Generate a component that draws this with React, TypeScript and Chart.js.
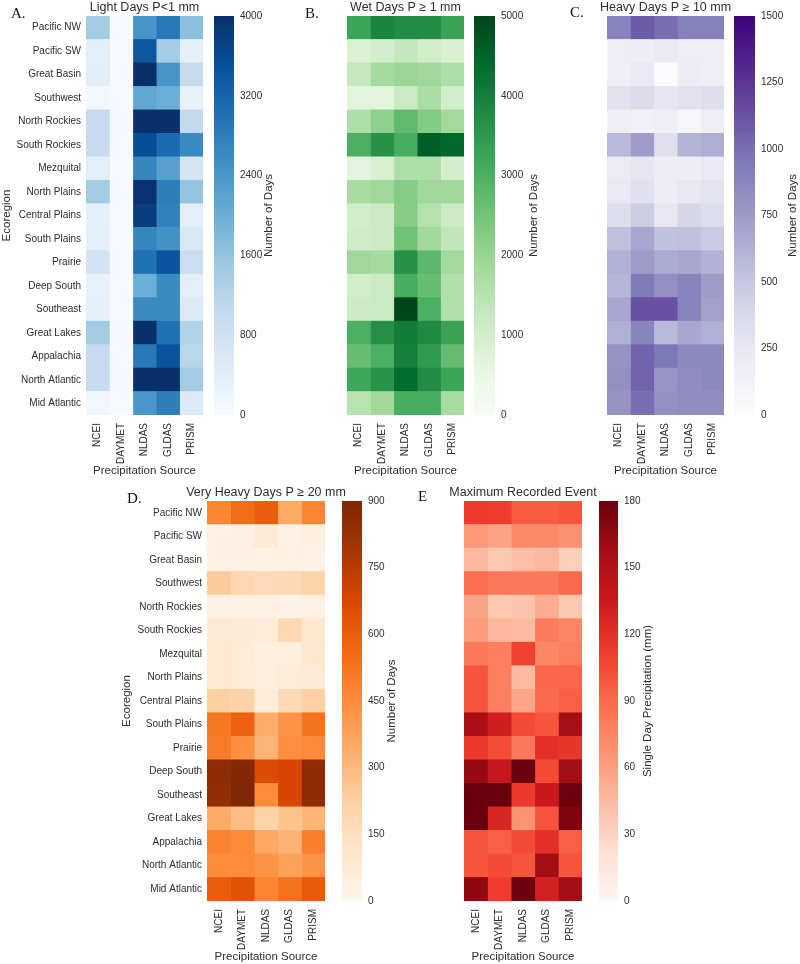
import React, { useEffect, useRef } from "react";
import { Chart, registerables } from "chart.js";
Chart.register(...registerables);

const REGIONS = [
  "Pacific NW", "Pacific SW", "Great Basin", "Southwest", "North Rockies",
  "South Rockies", "Mezquital", "North Plains", "Central Plains", "South Plains",
  "Prairie", "Deep South", "Southeast", "Great Lakes", "Appalachia",
  "North Atlantic", "Mid Atlantic",
];
const SOURCES = ["NCEI", "DAYMET", "NLDAS", "GLDAS", "PRISM"];

// rows follow REGIONS, columns follow SOURCES
const LIGHT_DAYS = [
  [1450, 20, 2450, 2900, 1700],
  [400, 20, 3400, 1450, 350],
  [450, 20, 4000, 2450, 1000],
  [100, 20, 2150, 2000, 300],
  [1000, 20, 4000, 4000, 1050],
  [1000, 20, 3550, 3100, 2600],
  [400, 20, 2700, 2250, 700],
  [1450, 20, 3950, 2800, 1600],
  [350, 20, 3800, 2750, 400],
  [380, 20, 2700, 2500, 600],
  [750, 20, 3000, 3450, 900],
  [300, 20, 2000, 2600, 400],
  [330, 20, 2600, 2600, 550],
  [1450, 20, 4000, 3000, 1250],
  [1000, 20, 2900, 3450, 1150],
  [1000, 20, 4000, 4000, 1450],
  [120, 20, 2400, 2800, 550],
];
const WET_DAYS = [
  [3250, 3900, 3750, 3750, 3300],
  [850, 1000, 1300, 1050, 870],
  [1280, 1800, 1950, 1900, 1650],
  [680, 700, 1200, 1700, 1050],
  [1650, 2150, 2750, 2300, 1850],
  [3000, 3650, 3050, 4600, 4450],
  [650, 900, 1650, 1650, 1000],
  [1750, 1900, 2250, 1900, 1880],
  [1050, 1150, 2250, 1550, 1150],
  [1080, 1150, 2550, 1880, 1350],
  [1900, 1800, 3650, 2800, 1850],
  [1050, 1200, 3050, 2650, 1600],
  [1150, 1200, 5000, 3000, 1600],
  [3000, 3700, 4050, 3800, 3300],
  [2650, 3000, 4000, 3450, 2700],
  [3200, 3600, 4350, 3750, 3250],
  [1500, 1880, 3050, 3050, 1750],
];
const HEAVY_DAYS = [
  [900, 1080, 1000, 920, 920],
  [180, 200, 220, 180, 180],
  [170, 230, 10, 200, 170],
  [300, 370, 270, 300, 340],
  [180, 150, 190, 80, 180],
  [580, 740, 330, 610, 650],
  [210, 270, 200, 200, 230],
  [230, 320, 200, 250, 290],
  [340, 460, 260, 400, 350],
  [540, 690, 530, 540, 480],
  [630, 740, 660, 680, 620],
  [600, 950, 820, 900, 740],
  [690, 1130, 1130, 900, 720],
  [640, 880, 580, 690, 640],
  [800, 1050, 960, 860, 860],
  [820, 1050, 780, 840, 860],
  [800, 1000, 820, 840, 840],
];
const VERY_HEAVY_DAYS = [
  [470, 550, 600, 350, 470],
  [40, 35, 90, 25, 50],
  [30, 30, 25, 40, 30],
  [240, 190, 170, 180, 210],
  [40, 30, 35, 15, 30],
  [90, 85, 70, 190, 110],
  [100, 70, 45, 55, 110],
  [100, 75, 55, 70, 80],
  [225, 210, 75, 175, 220],
  [520, 590, 340, 430, 530],
  [505, 440, 320, 440, 460],
  [860, 890, 665, 680, 860],
  [850, 900, 455, 680, 860],
  [350, 290, 205, 265, 310],
  [480, 460, 355, 320, 495],
  [455, 455, 430, 380, 430],
  [600, 640, 475, 535, 610],
];
const MAX_EVENT = [
  [113, 112, 97, 97, 100],
  [65, 58, 72, 72, 68],
  [45, 37, 43, 47, 32],
  [88, 82, 82, 82, 90],
  [58, 37, 40, 53, 38],
  [62, 47, 45, 80, 75],
  [82, 78, 110, 73, 78],
  [100, 78, 45, 92, 92],
  [100, 78, 57, 90, 95],
  [156, 132, 105, 100, 157],
  [114, 104, 82, 120, 116],
  [163, 137, 179, 105, 159],
  [180, 180, 114, 135, 178],
  [180, 126, 67, 100, 172],
  [100, 95, 105, 120, 95],
  [100, 105, 100, 159, 100],
  [166, 112, 178, 130, 159],
];

const LIGHT_TICKS = [0, 800, 1600, 2400, 3200, 4000];
const WET_TICKS = [0, 1000, 2000, 3000, 4000, 5000];
const HEAVY_TICKS = [0, 250, 500, 750, 1000, 1250, 1500];
const VERY_HEAVY_TICKS = [0, 150, 300, 450, 600, 750, 900];
const MAX_TICKS = [0, 30, 60, 90, 120, 150, 180];

const BLUES = ["#f7fbff", "#deebf7", "#c6dbef", "#9ecae1", "#6baed6", "#4292c6", "#2171b5", "#08519c", "#08306b"];
const GREENS = ["#f7fcf5", "#e5f5e0", "#c7e9c0", "#a1d99b", "#74c476", "#41ab5d", "#238b45", "#006d2c", "#00441b"];
const PURPLES = ["#fcfbfd", "#efedf5", "#dadaeb", "#bcbddc", "#9e9ac8", "#807dba", "#6a51a3", "#54278f", "#3f007d"];
const ORANGES = ["#fff5eb", "#fee6ce", "#fdd0a2", "#fdae6b", "#fd8d3c", "#f16913", "#d94801", "#a63603", "#7f2704"];
const REDS = ["#fff5f0", "#fee0d2", "#fcbba1", "#fc9272", "#fb6a4a", "#ef3b2c", "#cb181d", "#a50f15", "#67000d"];

const FONT = "'Liberation Sans', Arial, Helvetica, sans-serif";
const TEXT = "#2e2e2e";
Chart.defaults.font.family = FONT;
Chart.defaults.color = TEXT;

function hexRgb(h: string) {
  const n = parseInt(h.slice(1), 16);
  return [(n >> 16) & 255, (n >> 8) & 255, n & 255];
}
function cmapColor(stops: string[], t: number) {
  const c = Math.max(0, Math.min(1, t));
  const x = c * (stops.length - 1);
  const i = Math.min(Math.floor(x), stops.length - 2);
  const f = x - i;
  const a = hexRgb(stops[i]);
  const b = hexRgb(stops[i + 1]);
  const m = a.map((v, k) => Math.round(v + (b[k] - v) * f));
  return `rgb(${m[0]},${m[1]},${m[2]})`;
}

type Spec = {
  letter: string;
  letterX: number;
  letterY: number;
  title: string;
  values: number[][];
  ticks: number[];
  vmax: number;
  cmap: string[];
  cbarLabel: string;
  area: { l: number; t: number; r: number; b: number };
  yAxisW: number;
  cbar: { l: number; w: number };
  labelX: number;
};

const TITLE_H = 16;
const XAXIS_H = 65;
const CBAR_AXIS_W = 48;
const SIDE_PAD = 40;

const SPECS: Spec[] = [
  {
    letter: "A.", letterX: 11, letterY: 6, title: "Light Days P<1 mm", values: LIGHT_DAYS,
    ticks: LIGHT_TICKS, vmax: 4000, cmap: BLUES, cbarLabel: "Number of Days",
    area: { l: 86, t: 16, r: 203, b: 415 }, yAxisW: 86, cbar: { l: 214, w: 20 }, labelX: 269,
  },
  {
    letter: "B.", letterX: 305, letterY: 6, title: "Wet Days P \u2265 1 mm", values: WET_DAYS,
    ticks: WET_TICKS, vmax: 5000, cmap: GREENS, cbarLabel: "Number of Days",
    area: { l: 347, t: 16, r: 464, b: 415 }, yAxisW: 0, cbar: { l: 474, w: 21 }, labelX: 534,
  },
  {
    letter: "C.", letterX: 570, letterY: 5, title: "Heavy Days P \u2265 10 mm", values: HEAVY_DAYS,
    ticks: HEAVY_TICKS, vmax: 1500, cmap: PURPLES, cbarLabel: "Number of Days",
    area: { l: 607, t: 16, r: 724, b: 415 }, yAxisW: 0, cbar: { l: 734, w: 21 }, labelX: 793,
  },
  {
    letter: "D.", letterX: 127, letterY: 491, title: "Very Heavy Days P \u2265 20 mm", values: VERY_HEAVY_DAYS,
    ticks: VERY_HEAVY_TICKS, vmax: 900, cmap: ORANGES, cbarLabel: "Number of Days",
    area: { l: 207, t: 501, r: 325, b: 901 }, yAxisW: 87, cbar: { l: 342, w: 20 }, labelX: 392,
  },
  {
    letter: "E", letterX: 418, letterY: 489, title: "Maximum Recorded Event", values: MAX_EVENT,
    ticks: MAX_TICKS, vmax: 180, cmap: REDS, cbarLabel: "Single Day Precipitation (mm)",
    area: { l: 464, t: 501, r: 582, b: 901 }, yAxisW: 0, cbar: { l: 599, w: 19 }, labelX: 648,
  },
];

const cbarLabelPlugin = {
  id: "cbarLabel",
  afterDraw(chart: any, _args: any, opts: any) {
    if (!opts || !opts.text) return;
    const { ctx, chartArea } = chart;
    ctx.save();
    ctx.translate(opts.x, (chartArea.top + chartArea.bottom) / 2);
    ctx.rotate(-Math.PI / 2);
    ctx.textAlign = "center";
    ctx.textBaseline = "middle";
    ctx.fillStyle = TEXT;
    ctx.font = `11.5px ${FONT}`;
    ctx.fillText(opts.text, 0, 0);
    ctx.restore();
  },
};

const panelTitlePlugin = {
  id: "panelTitle",
  afterDraw(chart: any, _args: any, opts: any) {
    if (!opts || !opts.text) return;
    const { ctx, chartArea } = chart;
    ctx.save();
    ctx.textAlign = "center";
    ctx.textBaseline = "middle";
    ctx.fillStyle = TEXT;
    ctx.font = `12.5px ${FONT}`;
    ctx.fillText(opts.text, (chartArea.left + chartArea.right) / 2, chartArea.top - 8.5);
    ctx.restore();
  },
};

function Heatmap({ spec }: { spec: Spec }) {
  const ref = useRef<HTMLCanvasElement>(null);
  const padL = spec.yAxisW > 0 ? 0 : SIDE_PAD;
  const left = spec.area.l - spec.yAxisW - padL;
  const top = spec.area.t - TITLE_H;
  const width = spec.area.r - left + SIDE_PAD;
  const height = spec.area.b - top + XAXIS_H;
  useEffect(() => {
    const chart = new Chart(ref.current as HTMLCanvasElement, {
      type: "bar",
      data: {
        labels: REGIONS,
        datasets: SOURCES.map((s, j) => ({
          label: s,
          data: REGIONS.map(() => [j, j + 1]) as any,
          backgroundColor: (ctx: any) => cmapColor(spec.cmap, spec.values[ctx.dataIndex][j] / spec.vmax),
          borderWidth: 0,
          barPercentage: 1,
          categoryPercentage: 1,
        })),
      },
      options: {
        indexAxis: "y",
        responsive: false,
        animation: false,
        devicePixelRatio: 1,
        events: [],
        layout: { padding: { top: TITLE_H, left: padL, right: SIDE_PAD, bottom: 0 } },
        plugins: {
          legend: { display: false },
          tooltip: { enabled: false },
          title: { display: false },
          panelTitle: { text: spec.title },
        },
        scales: {
          y: {
            type: "category",
            stacked: true,
            display: spec.yAxisW > 0,
            grid: { display: false, drawTicks: false },
            border: { display: false },
            ticks: { padding: 5, color: TEXT, font: { size: 10 } },
            title: { display: true, text: "Ecoregion", color: TEXT, padding: 0, font: { size: 11.5 } },
            afterFit: (s: any) => { s.width = spec.yAxisW; },
          },
          x: {
            type: "linear",
            min: 0,
            max: SOURCES.length,
            stacked: false,
            grid: { display: false, drawTicks: false },
            border: { display: false },
            afterBuildTicks: (s: any) => { s.ticks = SOURCES.map((_, i) => ({ value: i + 0.5 })); },
            ticks: {
              autoSkip: false,
              minRotation: 90,
              maxRotation: 90,
              padding: 8,
              color: TEXT,
              font: { size: 10 },
              callback: (_v: any, i: number) => SOURCES[i],
            },
            title: { display: true, text: "Precipitation Source", color: TEXT, padding: { top: 0, bottom: 2 }, font: { size: 11.5 } },
            afterFit: (s: any) => { s.height = XAXIS_H; },
          },
        },
      } as any,
      plugins: [panelTitlePlugin],
    });
    return () => chart.destroy();
  }, []);
  return (
    <canvas
      ref={ref}
      width={width}
      height={height}
      style={{ position: "absolute", left, top, width, height }}
    />
  );
}

function Colorbar({ spec }: { spec: Spec }) {
  const ref = useRef<HTMLCanvasElement>(null);
  const left = spec.cbar.l;
  const top = spec.area.t - TITLE_H;
  const width = spec.cbar.w + CBAR_AXIS_W;
  const height = spec.area.b - top + XAXIS_H;
  useEffect(() => {
    const chart = new Chart(ref.current as HTMLCanvasElement, {
      type: "bar",
      data: {
        labels: [""],
        datasets: [
          {
            data: [[0, spec.vmax]] as any,
            backgroundColor: (ctx: any) => {
              const a = ctx.chart.chartArea;
              if (!a) return spec.cmap[0];
              const g = ctx.chart.ctx.createLinearGradient(0, a.bottom, 0, a.top);
              spec.cmap.forEach((c, i) => g.addColorStop(i / (spec.cmap.length - 1), c));
              return g;
            },
            borderWidth: 0,
            barPercentage: 1,
            categoryPercentage: 1,
          },
        ],
      },
      options: {
        responsive: false,
        animation: false,
        devicePixelRatio: 1,
        events: [],
        layout: { padding: { top: TITLE_H, bottom: XAXIS_H, left: 0, right: 0 } },
        plugins: {
          legend: { display: false },
          tooltip: { enabled: false },
          cbarLabel: { text: spec.cbarLabel, x: spec.labelX - left },
        },
        scales: {
          x: { display: false },
          y: {
            position: "right",
            min: 0,
            max: spec.vmax,
            grid: { display: false, drawTicks: false },
            border: { display: false },
            afterBuildTicks: (s: any) => { s.ticks = spec.ticks.map((v) => ({ value: v })); },
            ticks: { padding: 6, color: TEXT, font: { size: 10 }, callback: (v: any) => String(v) },
            afterFit: (s: any) => { s.width = CBAR_AXIS_W; },
          },
        },
      } as any,
      plugins: [cbarLabelPlugin],
    });
    return () => chart.destroy();
  }, []);
  return (
    <canvas
      ref={ref}
      width={width}
      height={height}
      style={{ position: "absolute", left, top, width, height }}
    />
  );
}

export default function App() {
  return (
    <div
      style={{
        position: "absolute",
        left: 0,
        top: 0,
        width: 800,
        height: 964,
        overflow: "hidden",
        background: "#ffffff",
      }}
    >
      {SPECS.map((s) => (
        <React.Fragment key={s.letter}>
          <Heatmap spec={s} />
          <Colorbar spec={s} />
          <div
            style={{
              position: "absolute",
              left: s.letterX,
              top: s.letterY,
              fontFamily: "'Liberation Serif', 'Times New Roman', serif",
              fontSize: 15,
              lineHeight: 1,
              color: "#111",
              whiteSpace: "nowrap",
            }}
          >
            {s.letter}
          </div>
        </React.Fragment>
      ))}
    </div>
  );
}
